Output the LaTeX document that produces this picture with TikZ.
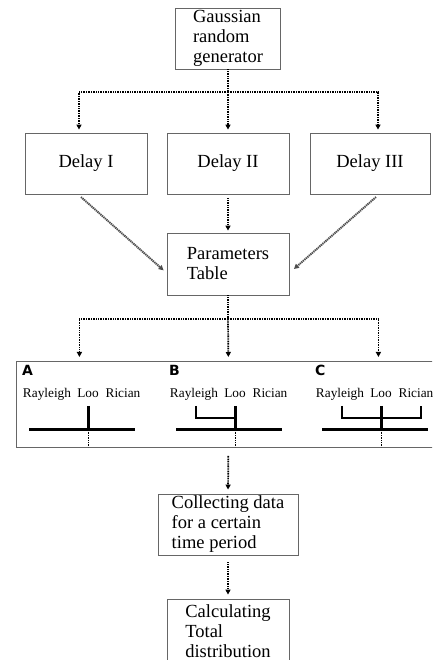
\documentclass[tikz,border=0pt]{standalone}
\usepackage{fontspec}
\setmainfont{Liberation Serif}
\newfontfamily\labelfont{DejaVu Sans}
\usepackage{tikz}
\usetikzlibrary{arrows.meta, positioning, calc}

\begin{document}
\begin{tikzpicture}[
  x=1pt, y=1pt,
  block/.style={
    rectangle, draw=#1, line width=0.8pt, align=left,
    font=\fontsize{18.5}{20}\selectfont, inner sep=2pt,
    minimum height=61pt,
  },
  block/.default={black!60},
  word/.style={font=\fontsize{13.3}{15}\selectfont, anchor=base, inner sep=0pt},
  tag/.style={font=\labelfont\bfseries\fontsize{14}{16}\selectfont, anchor=west, inner sep=0pt},
  flowline/.style={dash pattern=on 1pt off 0.7pt, line width=1.7pt},
  flow/.style={flowline, -{Triangle[width=5pt,length=5pt]}},
  slant/.style={flow, draw=black!70, fill=black!70, line width=2pt, dash pattern=on 1.2pt off 0.8pt},
  bar/.style={line width=3pt},
]
  \useasboundingbox (0,0) rectangle (432,660);
  \clip (0,0) rectangle (432,660);

  % Gaussian generator (top)
  \node[block, minimum width=105pt] (gauss) at (228,621.5) {Gaussian\\random\\generator};

  % Delays
  \node[block, align=center, minimum width=122pt] (delay1) at (86,496.5) {Delay I};
  \node[block, align=center, minimum width=122pt] (delay2) at (228,496.5) {Delay II};
  \node[block, align=center, minimum width=120pt] (delay3) at (370,496.5) {Delay III};

  % Parameters table
  \node[block, minimum width=122pt, minimum height=62pt] (param) at (228,396) {Parameters\\Table};

  % Channel models panel
  \node[block, anchor=north west, inner sep=0pt, minimum width=424pt, minimum height=86pt] (panel) at (16,299) {};
  \foreach \p/\x in {A/47, B/194, C/340} {
    \node[tag] (tag\p) at (\x-25,290) {\p};
    \node[word] (ray\p) at (\x,262) {Rayleigh};
    \node[word] (loo\p) at (\x+41,262) {Loo};
    \node[word] (ric\p) at (\x+76,262) {Rician};
    \draw[bar] (\x-18,230) -- (\x+88,230);
    \draw[bar] (\x+41,254) -- (\x+41,230);
    \draw[flowline, line width=1pt] (\x+41,230) -- (\x+41,213);
  }
  \draw[line width=2.5pt] (196,254) -- (196,242) -- (235,242);
  \draw[line width=2.5pt] (342,254) -- (342,242) -- (421,242) -- (421,254);

  % Collecting and total
  \node[block, minimum width=140pt] (collect) at (228,135.5) {Collecting data\\for a certain\\time period};
  \node[block, minimum width=122pt, minimum height=64pt] (calc) at (228,29) {Calculating\\Total\\distribution};

  % Arrows
  \coordinate (split1) at (228,568);
  \draw[flowline] (gauss.south) -- (split1);
  \draw[flow, shorten >=3pt] (split1) -| ([xshift=-7pt]delay1.north);
  \draw[flow, shorten >=3pt] (split1) -- (delay2.north);
  \draw[flow, shorten >=3pt] (split1) -| ([xshift=8pt]delay3.north);

  \draw[slant, shorten <=4pt, shorten >=4pt] ([xshift=-8pt]delay1.south) -- ([yshift=-9pt]param.west);
  \draw[flow, shorten <=4pt, shorten >=2pt] (delay2.south) -- (param.north);
  \draw[slant, shorten <=4pt, shorten >=6pt] ([xshift=9pt]delay3.south) -- ([yshift=-9pt]param.east);

  \coordinate (split2) at (228,341);
  \draw[flowline] (param.south) -- (split2);
  \draw[flow, shorten >=4pt] (split2) -| ([xshift=-149pt]panel.north);
  \draw[flow, shorten >=4pt] (split2) -- (panel.north);
  \draw[flow, shorten >=4pt] (split2) -| ([xshift=150pt]panel.north);

  \draw[flow, shorten <=8pt, shorten >=4pt] (panel.south) -- (collect.north);
  \draw[flow, shorten <=7pt, shorten >=4pt] (collect.south) -- (calc.north);
\end{tikzpicture}
\end{document}
